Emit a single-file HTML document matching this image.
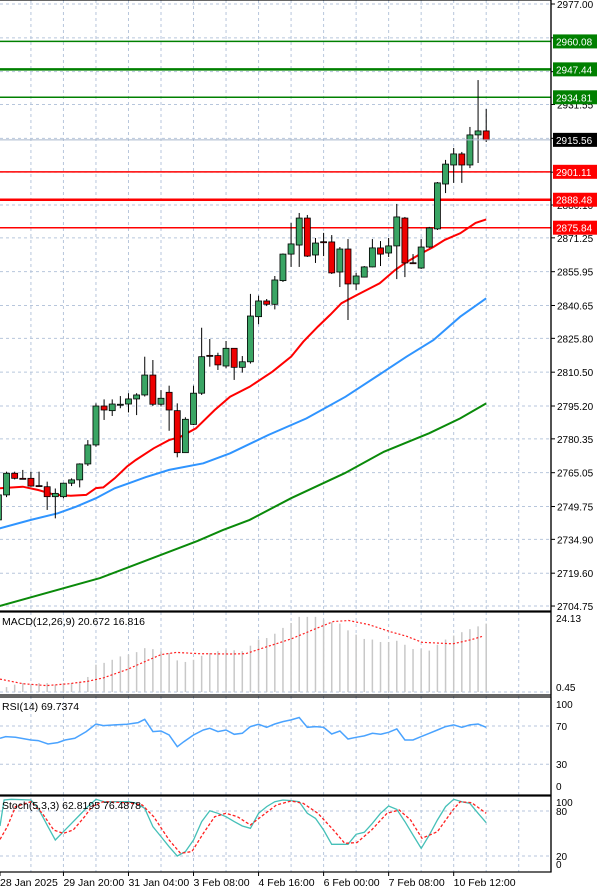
<!DOCTYPE html>
<html><head><meta charset="utf-8"><style>
body{margin:0;background:#fff;width:600px;height:893px;overflow:hidden}
svg{display:block;font-family:"Liberation Sans",sans-serif}
</style></head><body>
<svg id="chart" width="600" height="893" viewBox="0 0 600 893" xmlns="http://www.w3.org/2000/svg">
<rect x="0" y="0" width="600" height="893" fill="#fff"/>
<g id="grid"></g>
<g id="mainG"></g>
<g id="macdG"></g>
<g id="rsiG"></g>
<g id="stochG"></g>
<g id="axisG"></g>
<text x="2" y="625" font-size="10.5" fill="#000">MACD(12,26,9) 20.672 16.816</text>
<text x="2" y="710" font-size="10.5" fill="#000">RSI(14) 69.7374</text>
<text x="2" y="809" font-size="10.5" fill="#000">Stoch(5,3,3) 62.8195 76.4878</text>
</svg>
<script>
// ---- data ----
const opens  = [2743.7,2755.0,2764.8,2762.5,2762.5,2759.2,2758.7,2754.2,2754.2,2760.3,2761.8,2769.0,2777.6,2795.2,2793.1,2795.9,2796.1,2798.4,2800.2,2809.2,2796.0,2801.4,2793.1,2774.1,2786.9,2801.0,2818.1,2818.0,2813.3,2821.3,2812.7,2815.2,2835.6,2842.7,2841.2,2851.9,2863.9,2868.0,2880.2,2863.5,2869.5,2869.4,2855.8,2866.2,2850.4,2853.5,2858.1,2866.7,2864.4,2867.6,2880.2,2860.0,2857.6,2867.1,2875.3,2895.6,2904.2,2909.2,2904.2,2917.8,2919.6];
const closes = [2755.0,2764.8,2762.5,2762.4,2759.0,2759.1,2754.2,2755.7,2760.3,2761.8,2769.0,2777.6,2795.2,2793.4,2796.1,2796.0,2798.4,2800.2,2809.2,2796.0,2798.7,2793.4,2774.1,2789.2,2801.0,2817.5,2818.0,2813.8,2821.3,2812.7,2815.2,2835.9,2842.7,2841.2,2852.2,2863.9,2868.5,2880.2,2863.0,2868.9,2869.4,2855.4,2866.2,2850.4,2854.0,2858.1,2866.7,2863.9,2867.6,2880.7,2859.9,2859.9,2867.1,2875.7,2896.1,2904.6,2909.2,2904.2,2917.8,2919.6,2915.56];
const highs  = [2756.0,2765.5,2765.5,2766.3,2765.5,2765.5,2761.0,2757.9,2760.5,2762.5,2769.3,2779.8,2796.4,2798.2,2798.2,2799.7,2801.0,2801.0,2817.5,2816.0,2802.4,2804.4,2796.4,2790.1,2804.4,2830.6,2825.5,2819.3,2824.6,2821.3,2817.8,2845.9,2845.1,2843.6,2854.0,2864.2,2878.0,2882.5,2881.6,2871.2,2873.5,2872.5,2867.1,2870.7,2855.4,2858.5,2870.7,2869.8,2871.2,2886.6,2880.7,2863.9,2870.7,2876.2,2896.5,2906.5,2911.9,2910.1,2921.4,2942.6,2929.5];
const lows   = [2742.0,2754.0,2762.0,2762.0,2758.7,2758.7,2748.2,2744.4,2753.5,2759.0,2758.4,2768.1,2776.8,2788.9,2790.7,2794.2,2792.3,2791.1,2799.5,2795.2,2795.0,2784.0,2772.0,2774.1,2786.6,2800.2,2813.0,2811.5,2812.3,2807.0,2810.3,2814.4,2832.2,2840.4,2838.9,2851.3,2858.1,2858.1,2862.6,2859.9,2863.0,2854.9,2849.0,2834.1,2847.7,2853.3,2857.9,2858.5,2862.6,2852.6,2853.5,2859.4,2857.2,2866.7,2874.8,2891.5,2896.1,2896.1,2902.8,2905.1,2914.6];
const redMaIdx = [0.2,3.0,4.9,7.0,8.9,10.8,12.0,12.9,14.3,15.8,16.9,19.1,21.0,22.4,24.3,26.6,28.5,30.9,33.7,36.0,37.5,39.3,40.8,42.2,44.1,46.9,48.8,50.2,52.1,53.5,54.9,56.8,58.7,60.0];
const redMaVal = [2758.0,2758.7,2757.2,2755.0,2754.6,2755.0,2758.1,2758.4,2762.5,2767.8,2770.8,2776.1,2779.8,2781.3,2785.1,2793.4,2799.4,2803.9,2810.7,2817.5,2824.3,2831.1,2836.4,2841.7,2845.4,2850.7,2856.7,2860.3,2864.4,2867.1,2870.3,2873.3,2878.0,2879.6];
const blueMaIdx = [-0.5,0.2,4.0,7.3,9.6,12.0,14.3,18.1,21.0,25.2,28.5,33.2,37.9,42.7,47.4,50.2,53.5,56.8,60.0];
const blueMaVal = [2738.5,2739.9,2743.7,2746.7,2749.7,2753.5,2758.0,2763.0,2766.3,2769.3,2773.8,2782.1,2789.6,2799.4,2810.7,2817.5,2825.0,2835.6,2843.9];
const greenMaIdx = [-0.5,0.2,12.5,24.5,27.6,30.9,36.0,42.6,47.4,53.0,56.8,60.0];
const greenMaVal = [2704.2,2704.8,2717.4,2734.2,2739.1,2743.7,2753.5,2764.8,2774.5,2782.9,2789.6,2796.4];
const levelValues = [2960.08,2947.44,2934.81,2901.11,2888.48,2875.84];
const levelColors = ["#008000","#008000","#008000","#ff0000","#ff0000","#ff0000"];
const levelWidths = [1.5,2.5,1.5,1.5,2.5,1.5];
const priceTicks = [2977.00,2961.70,2946.40,2931.55,2916.25,2900.95,2886.10,2871.25,2855.95,2840.65,2825.80,2810.50,2795.20,2780.35,2765.05,2749.75,2734.90,2719.60,2704.75];
const priceTickShown = [1,0,0,1,0,0,1,1,1,1,1,1,1,1,1,1,1,1,1];
const lastPrice = 2915.56;
const macdHist = [1.0,1.6,2.4,2.9,2.4,2.9,2.9,2.4,2.9,2.9,3.3,4.9,8.9,9.5,10.5,11.6,12.2,13.0,14.3,14.0,13.3,12.7,10.3,9.8,10.5,11.8,12.7,13.3,13.8,13.6,13.3,15.1,17.1,17.6,19.0,20.9,22.5,24.5,24.5,24.5,23.6,22.7,22.3,20.1,18.7,17.3,17.1,16.3,16.3,16.7,15.4,14.0,14.0,13.5,15.4,17.1,18.4,19.5,20.5,21.4,22.3];
const macdSigIdx = [0.2,3.0,5.9,8.7,11.0,12.9,15.8,18.1,20.0,21.9,24.7,28.5,30.4,33.2,36.0,38.9,41.2,43.1,45.5,48.3,50.2,52.1,55.9,58.2,59.6];
const macdSigVal = [4.2,2.7,2.1,2.7,3.5,4.6,7.3,10.0,12.2,12.9,12.5,12.4,12.5,14.9,17.3,20.5,23.0,23.3,22.0,19.6,18.2,16.2,15.7,17.1,18.2];
const rsiIdx = [0.2,0.9,2.1,4.0,4.9,6.1,7.3,8.2,9.4,10.8,12.0,12.9,14.3,15.8,17.2,18.0,19.0,20.0,21.0,22.0,22.8,24.0,25.2,26.0,27.0,28.0,29.0,30.0,31.0,32.0,33.0,34.0,35.0,36.0,37.0,38.0,39.0,40.0,41.0,42.0,43.0,44.0,45.0,46.0,47.0,48.0,49.0,50.0,51.0,52.0,53.0,54.0,55.0,56.0,57.0,58.0,59.0,60.0];
const rsiVal = [57.1,58.9,58.2,55.4,54.7,51.2,52.6,55.4,57.1,64.1,72.1,70.4,71.1,71.8,73.5,77.0,64.1,64.8,60.6,48.4,53.6,60.6,65.8,67.6,64.1,65.8,61.3,62.3,69.3,71.8,68.6,72.1,74.6,76.3,78.8,68.6,69.3,68.6,61.6,64.8,56.4,58.2,59.6,62.3,61.3,63.4,66.9,55.4,55.4,58.9,62.3,65.8,69.3,71.1,68.6,71.1,72.1,68.6];
const stochKIdx = [0.2,0.7,1.6,4.0,4.9,6.1,7.0,8.0,9.0,10.0,11.0,12.0,13.0,14.0,15.0,16.0,17.0,18.0,19.0,20.0,21.0,22.0,23.0,24.0,25.0,26.0,27.0,28.0,29.0,30.0,31.0,32.0,33.0,34.0,35.0,36.0,37.0,38.0,39.0,40.0,41.0,42.0,43.0,44.0,45.0,46.0,47.0,48.0,49.0,50.0,51.0,52.0,53.0,54.0,55.0,56.0,57.0,58.0,59.0,60.0];
const stochKVal = [60.0,94.7,95.6,94.7,83.6,59.1,41.3,52.4,63.6,74.7,85.8,95.6,92.4,92.4,92.4,92.4,90.2,83.6,59.1,45.8,32.4,20.0,25.8,41.3,65.8,80.4,76.9,72.4,65.8,60.0,56.9,76.9,85.8,92.4,94.7,93.8,92.4,76.9,70.2,54.7,35.6,35.6,35.6,48.9,51.6,63.6,76.9,86.7,82.2,65.8,48.0,30.2,48.0,68.0,85.8,95.6,92.4,90.2,76.9,64.4];
const stochDIdx = [0.2,1.1,2.1,4.0,5.4,6.8,8.0,9.2,10.6,11.5,12.9,15.8,17.7,19.1,21.0,22.4,23.8,25.2,26.6,28.0,29.4,31.0,32.3,34.2,36.0,37.5,39.3,41.2,42.6,44.1,45.9,47.8,49.3,50.7,52.1,54.0,55.9,56.8,58.2,60.0];
const stochDVal = [42.2,59.1,85.8,92.4,76.9,54.7,50.2,54.7,72.4,85.8,92.4,91.1,88.0,72.4,41.3,23.6,25.8,50.2,72.4,76.9,72.4,61.3,72.4,88.0,93.3,90.2,76.9,54.7,36.9,37.8,54.7,76.9,81.3,68.0,43.6,52.4,81.3,92.4,91.1,76.9];
const dateLabels = ["28 Jan 2025","29 Jan 20:00","31 Jan 04:00","3 Feb 08:00","4 Feb 16:00","6 Feb 00:00","7 Feb 08:00","10 Feb 12:00"];
const dateLabelIdx = [0,8,16,24,32,40,48,56];

// ---- scales ----
const NS="http://www.w3.org/2000/svg";
const PLOT_R=551;
const xOf=i=>-1.6+8.13*i;
const yPrice=p=>4+(2977-p)*2.2113;
const yMacd=v=>692-v*3.067;
const yRsi=v=>793-v*0.9575;
const yStoch=v=>871-v*0.75;
function mk(parent,tag,attrs){const e=document.createElementNS(NS,tag);for(const k in attrs)e.setAttribute(k,attrs[k]);parent.appendChild(e);return e;}
const grid=document.getElementById('grid'),mainG=document.getElementById('mainG'),macdG=document.getElementById('macdG'),rsiG=document.getElementById('rsiG'),stochG=document.getElementById('stochG'),axisG=document.getElementById('axisG');
const GC="#b7c6dc";

// vertical grid
for(let i=4;i<=64;i+=4){const x=xOf(i);if(x>PLOT_R)break;
 const l=mk(grid,'line',{x1:x,x2:x,y1:0,y2:872,stroke:GC,'stroke-dasharray':'3,3','stroke-width':1});
 
 }
// horizontal price grid + ticks
priceTicks.forEach((p,k)=>{const y=yPrice(p);
 const l=mk(grid,'line',{x1:0,x2:PLOT_R,y1:y,y2:y,stroke:GC,'stroke-dasharray':'3,3','stroke-width':1});
 
 
 mk(axisG,'line',{x1:PLOT_R,x2:PLOT_R+4,y1:y,y2:y,stroke:'#000'});
 if(priceTickShown[k]){const t=mk(axisG,'text',{x:557,y:y+4,'font-size':10,fill:'#000'});t.textContent=p.toFixed(2);
 
 }
});
// sub-panel grids
[[yRsi(70)],[yRsi(30)],[yStoch(80)],[yStoch(20)],[yMacd(0)]].forEach(a=>{const l=mk(grid,'line',{x1:0,x2:PLOT_R,y1:a[0],y2:a[0],stroke:GC,'stroke-dasharray':'3,3'});
 
 });

// MAs
function poly(g,idx,val,yf,color,w,dash,name){const pts=idx.map((i,k)=>xOf(i).toFixed(1)+','+yf(val[k]).toFixed(1)).join(' ');
 const p=mk(g,'polyline',{points:pts,fill:'none',stroke:color,'stroke-width':w});if(dash)p.setAttribute('stroke-dasharray',dash);
 
 return p;}
poly(mainG,greenMaIdx,greenMaVal,yPrice,'#0a8a0a',2,null,'ma-slow-green');
poly(mainG,blueMaIdx,blueMaVal,yPrice,'#2f94ff',2,null,'ma-medium-blue');
poly(mainG,redMaIdx,redMaVal,yPrice,'#ff0000',2,null,'ma-fast-red');

// levels
levelValues.forEach((v,k)=>{const y=yPrice(v);
 const l=mk(mainG,'line',{x1:0,x2:PLOT_R,y1:y,y2:y,stroke:levelColors[k],'stroke-width':levelWidths[k]});
 
 });

// candles
opens.forEach((o,i)=>{const c=closes[i],x=xOf(i);const up=c>=o;
 const w=mk(mainG,'line',{x1:x,x2:x,y1:yPrice(highs[i]),y2:yPrice(lows[i]),stroke:'#000','stroke-width':1});
 
 
 const top=yPrice(Math.max(o,c)),bot=yPrice(Math.min(o,c));
 const r=mk(mainG,'rect',{x:x-3,y:top,width:6,height:Math.max(1,bot-top),fill:up?'#3aa564':'#ee0000',stroke:'#000','stroke-width':0.8});
 
 });

// level labels
levelValues.forEach((v,k)=>{const y=yPrice(v);
 const r=mk(axisG,'rect',{x:553,y:y-7,width:44,height:14,fill:levelColors[k]});
 
 
 const t=mk(axisG,'text',{x:556,y:y+4,'font-size':10,fill:'#fff'});t.textContent=v.toFixed(2);
 
 });
{const y=yPrice(lastPrice);
 const l=mk(mainG,'line',{x1:0,x2:PLOT_R,y1:y,y2:y,stroke:'#a9b8cc','stroke-width':1});
 
 
 const r=mk(axisG,'rect',{x:553,y:y-7,width:44,height:14,fill:'#000'});
 
 
 const t=mk(axisG,'text',{x:556,y:y+4,'font-size':10,fill:'#fff'});t.textContent=lastPrice.toFixed(2);
 
 }

// MACD
macdHist.forEach((v,i)=>{const x=xOf(i);if(x<0)return;
 const b=mk(macdG,'line',{x1:x,x2:x,y1:yMacd(0),y2:yMacd(v),stroke:'#c8c8c8','stroke-width':1.5});
 
 });
poly(macdG,macdSigIdx,macdSigVal,yMacd,'#ff2020',1.2,'2,2','macd-signal-line');
// RSI
poly(rsiG,rsiIdx,rsiVal,yRsi,'#4aa3ff',1.5,null,'rsi-line');
// Stoch
poly(stochG,stochKIdx,stochKVal,yStoch,'#45c0b8',1.3,null,'stoch-main-line');
poly(stochG,stochDIdx,stochDVal,yStoch,'#ff2020',1.3,'3,2','stoch-signal-line');

// panel frames
[[0,611],[612,695],[697,795],[796,872]].forEach(a=>{
 const r=mk(axisG,'rect',{x:-1,y:a[0],width:PLOT_R+1,height:a[1]-a[0],fill:'none',stroke:'#000','stroke-width':1.2});
 
 });
mk(axisG,'line',{x1:PLOT_R,x2:PLOT_R,y1:0,y2:872,stroke:'#000','stroke-width':1.2});
// indicator axis labels
const indLabels=[["24.13",622],["0.45",691],["100",708],["70",730],["30",768],["0",790],["100",806],["80",815],["20",860],["0",868]];
indLabels.forEach(a=>{const t=mk(axisG,'text',{x:556,y:a[1],'font-size':10,fill:'#000'});t.textContent=a[0];
 
 });
// date labels
dateLabels.forEach((s,k)=>{const x=Math.max(0,xOf(dateLabelIdx[k]));
 mk(axisG,'line',{x1:x,x2:x,y1:872,y2:876,stroke:'#000'});
 const t=mk(axisG,'text',{x:x,y:886,'font-size':10.5,fill:'#000'});t.textContent=s;
 
 });
</script>
</body></html>
